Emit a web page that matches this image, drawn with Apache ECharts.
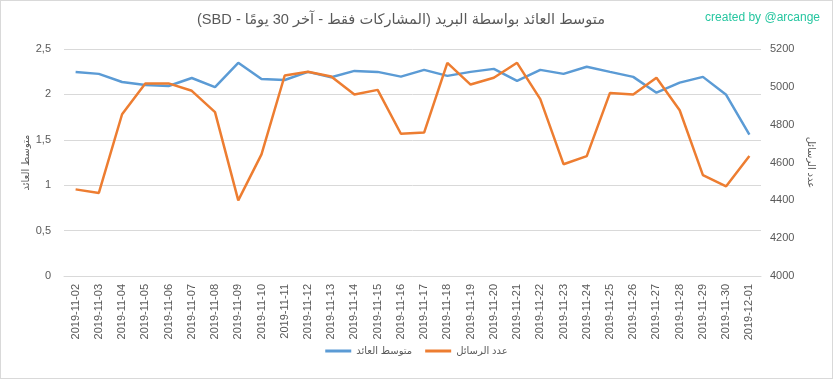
<!DOCTYPE html>
<html>
<head>
<meta charset="utf-8">
<script src="https://cdn.jsdelivr.net/npm/echarts@6/dist/echarts.min.js"></script>
<style>
html,body{margin:0;padding:0;background:#fff;}
#c{width:831px;height:377px;border:1px solid #d9d9d9;}
</style>
</head>
<body>
<div id="c"></div>
<script>
const categories = ['2019-11-02','2019-11-03','2019-11-04','2019-11-05','2019-11-06','2019-11-07','2019-11-08','2019-11-09','2019-11-10','2019-11-11','2019-11-12','2019-11-13','2019-11-14','2019-11-15','2019-11-16','2019-11-17','2019-11-18','2019-11-19','2019-11-20','2019-11-21','2019-11-22','2019-11-23','2019-11-24','2019-11-25','2019-11-26','2019-11-27','2019-11-28','2019-11-29','2019-11-30','2019-12-01'];
const avgReward = [2.248,2.226,2.137,2.104,2.093,2.181,2.081,2.348,2.170,2.159,2.248,2.189,2.259,2.248,2.196,2.270,2.204,2.248,2.281,2.148,2.270,2.226,2.304,2.248,2.193,2.019,2.130,2.193,1.996,1.556];
const msgCount = [4458,4439,4855,5018,5018,4979,4866,4400,4643,5060,5080,5055,4959,4984,4752,4758,5127,5012,5048,5127,4935,4591,4634,4968,4959,5048,4876,4533,4474,4634];
const leftTicks = {min:0, max:2.5, interval:0.5};
const rightTicks = {min:4000, max:5200, interval:200};
const seriesNames = ['متوسط العائد','عدد الرسائل'];
const titleText = 'متوسط العائد بواسطة البريد (المشاركات فقط - آخر 30 يومًا - SBD)';
const creditText = 'created by @arcange';

const FONT = '"Liberation Sans","DejaVu Sans",sans-serif';
const chart = echarts.init(document.getElementById('c'));
chart.setOption({
  animation:false,
  textStyle:{fontFamily:FONT},
  title:[
    {text:creditText,right:7,top:6,textStyle:{fontFamily:FONT,fontSize:12,fontWeight:'normal',color:'#26c6a0'}}
  ],
  graphic:[
    {type:'text',left:196,top:11,silent:true,
     style:{text:'\u202B'+titleText+'\u202C',font:'14.6px "Liberation Sans","DejaVu Sans",sans-serif',fill:'#595959'}}
  ],
  legend:{
    bottom:17,left:'center',
    data:seriesNames,
    icon:'rect',itemWidth:26,itemHeight:3,itemGap:13,
    textStyle:{fontFamily:FONT,fontSize:10,color:'#595959'}
  },
  grid:{left:63,right:71,top:48,bottom:102},
  xAxis:{
    type:'category',data:categories,boundaryGap:true,
    axisLine:{lineStyle:{color:'#d9d9d9'}},
    axisTick:{show:false},
    axisLabel:{rotate:90,fontSize:11,color:'#595959',margin:8,fontFamily:FONT},
    splitLine:{show:false}
  },
  yAxis:[
    {type:'value',min:leftTicks.min,max:leftTicks.max,interval:leftTicks.interval,
     name:seriesNames[0],nameLocation:'middle',nameGap:33,nameRotate:90,nameMoveOverlap:false,
     nameTextStyle:{fontSize:10,color:'#595959',fontFamily:FONT},
     axisLine:{show:false},axisTick:{show:false},
     axisLabel:{fontSize:11,color:'#595959',margin:13,formatter:v=>String(v).replace('.',',')},
     splitLine:{lineStyle:{color:'#d9d9d9',width:1}}},
    {type:'value',min:rightTicks.min,max:rightTicks.max,interval:rightTicks.interval,
     name:seriesNames[1],nameLocation:'middle',nameGap:45,nameRotate:-90,nameMoveOverlap:false,
     nameTextStyle:{fontSize:10,color:'#595959',fontFamily:FONT},
     axisLine:{show:false},axisTick:{show:false},
     axisLabel:{fontSize:11,color:'#595959',margin:9,formatter:v=>String(v)},
     splitLine:{show:false}}
  ],
  series:[
    {name:seriesNames[0],type:'line',yAxisIndex:0,data:avgReward,showSymbol:false,symbol:'none',
     lineStyle:{color:'#5b9bd5',width:2.5},itemStyle:{color:'#5b9bd5'}},
    {name:seriesNames[1],type:'line',yAxisIndex:1,data:msgCount,showSymbol:false,symbol:'none',
     lineStyle:{color:'#ed7d31',width:2.5},itemStyle:{color:'#ed7d31'}}
  ]
});
</script>
</body>
</html>
